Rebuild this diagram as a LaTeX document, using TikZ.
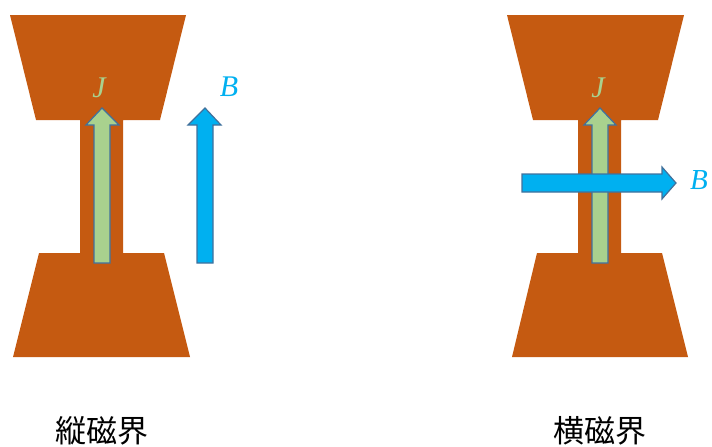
\documentclass[tikz,border=0pt]{standalone}
\usepackage{fontspec}
\setmainfont{Liberation Serif}
\newfontfamily\cjk{Noto Sans CJK JP}
\definecolor{cu}{HTML}{C55A11}
\definecolor{jgreen}{HTML}{A9D18E}
\definecolor{bblue}{HTML}{00B0F0}
\definecolor{edge}{HTML}{41719C}
\tikzset{
  metal/.style={fill=cu, draw=none},
  jarrow/.style={fill=jgreen, draw=edge, line width=1.2pt, line join=miter},
  barrow/.style={fill=bblue, draw=edge, line width=1.2pt, line join=miter},
  jlabel/.style={text=jgreen, font=\fontsize{30}{30}\selectfont\itshape, inner sep=0pt},
  blabel/.style={text=bblue, font=\fontsize{30}{30}\selectfont\itshape, inner sep=0pt},
  title/.style={font=\cjk\fontsize{31}{31}\selectfont, inner sep=0pt}
}
\begin{document}
\begin{tikzpicture}[x=1pt,y=-1pt]
\useasboundingbox (0,0) rectangle (712,447);
% left device
\fill[metal] (10,15) -- (186,15) -- (160,120) -- (123,120) -- (123,253) -- (164,253) -- (190,357) -- (13,357) -- (39,253) -- (80,253) -- (80,120) -- (36,120) -- cycle;
\draw[jarrow] (94,263) -- (94,125) -- (86,125) -- (102,108) -- (119,125) -- (110,125) -- (110,263) -- cycle;
\draw[barrow] (197,263) -- (197,125) -- (188,125) -- (205,108) -- (221,125) -- (213,125) -- (213,263) -- cycle;
\node[jlabel] (J1) at (99,88) {J};
\node[blabel] (B1) at (229,87) {B};
\node[title] (t1) at (102,431) {縦磁界};
% right device
\fill[metal] (507,15) -- (684,15) -- (658,120) -- (621,120) -- (621,253) -- (662,253) -- (688,357) -- (512,357) -- (537,253) -- (578,253) -- (578,120) -- (533,120) -- cycle;
\draw[jarrow] (592,263) -- (592,125) -- (584,125) -- (600,108) -- (616,125) -- (608,125) -- (608,263) -- cycle;
\draw[barrow] (522,174) -- (662,174) -- (662,167) -- (676,183) -- (662,199) -- (662,192) -- (522,192) -- cycle;
\node[jlabel] (J2) at (598,88) {J};
\node[blabel, anchor=west, font=\fontsize{29}{29}\selectfont\itshape] (B2) at (690,180) {B};
\node[title] (t2) at (600,431) {横磁界};
\end{tikzpicture}
\end{document}
